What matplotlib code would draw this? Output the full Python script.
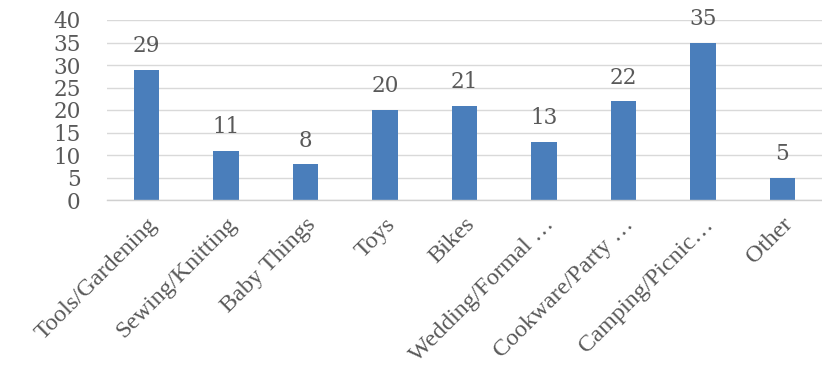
import matplotlib
matplotlib.use("Agg")
import matplotlib.pyplot as plt

categories = ["Tools/Gardening", "Sewing/Knitting", "Baby Things", "Toys", "Bikes",
              "Wedding/Formal …", "Cookware/Party …", "Camping/Picnic…", "Other"]
values = [29, 11, 8, 20, 21, 13, 22, 35, 5]
yticks = [0, 5, 10, 15, 20, 25, 30, 35, 40]

plt.rcParams['font.family'] = ['DejaVu Serif']
text_color = '#595959'

fig = plt.figure(figsize=(8.22, 3.66), dpi=100)
ax = fig.add_axes([107/822, 1-200/366, (822-107)/822, 180/366])

x = list(range(len(categories)))
bars = ax.bar(x, values, width=0.32, color='#4A7EBB', zorder=3)
ax.set_xlim(-0.5, len(categories)-0.5)
ax.set_ylim(0, 40)
ax.set_yticks(yticks)
ax.set_yticklabels([str(t) for t in yticks], fontsize=15.5, color=text_color)
ax.tick_params(axis='y', length=0, pad=19)
ax.tick_params(axis='x', length=0, pad=10)
ax.set_xticks(x)
ax.set_xticklabels(categories, rotation=45, ha='right', rotation_mode='anchor',
                   fontsize=17.5, color=text_color, family=['Liberation Serif', 'DejaVu Serif'])
ax.yaxis.grid(True, color='#D9D9D9', linewidth=1, zorder=0)
for s in ['top', 'right', 'left']:
    ax.spines[s].set_visible(False)
ax.spines['bottom'].set_color('#D0D0D0')
ax.spines['bottom'].set_linewidth(1)
ax.spines['bottom'].set_zorder(4)

for xi, v in zip(x, values):
    ax.annotate(str(v), (xi, v), xytext=(0, 9), textcoords='offset points',
                ha='center', va='bottom', fontsize=15.5, color=text_color)

fig.savefig('out.png', dpi=100)
